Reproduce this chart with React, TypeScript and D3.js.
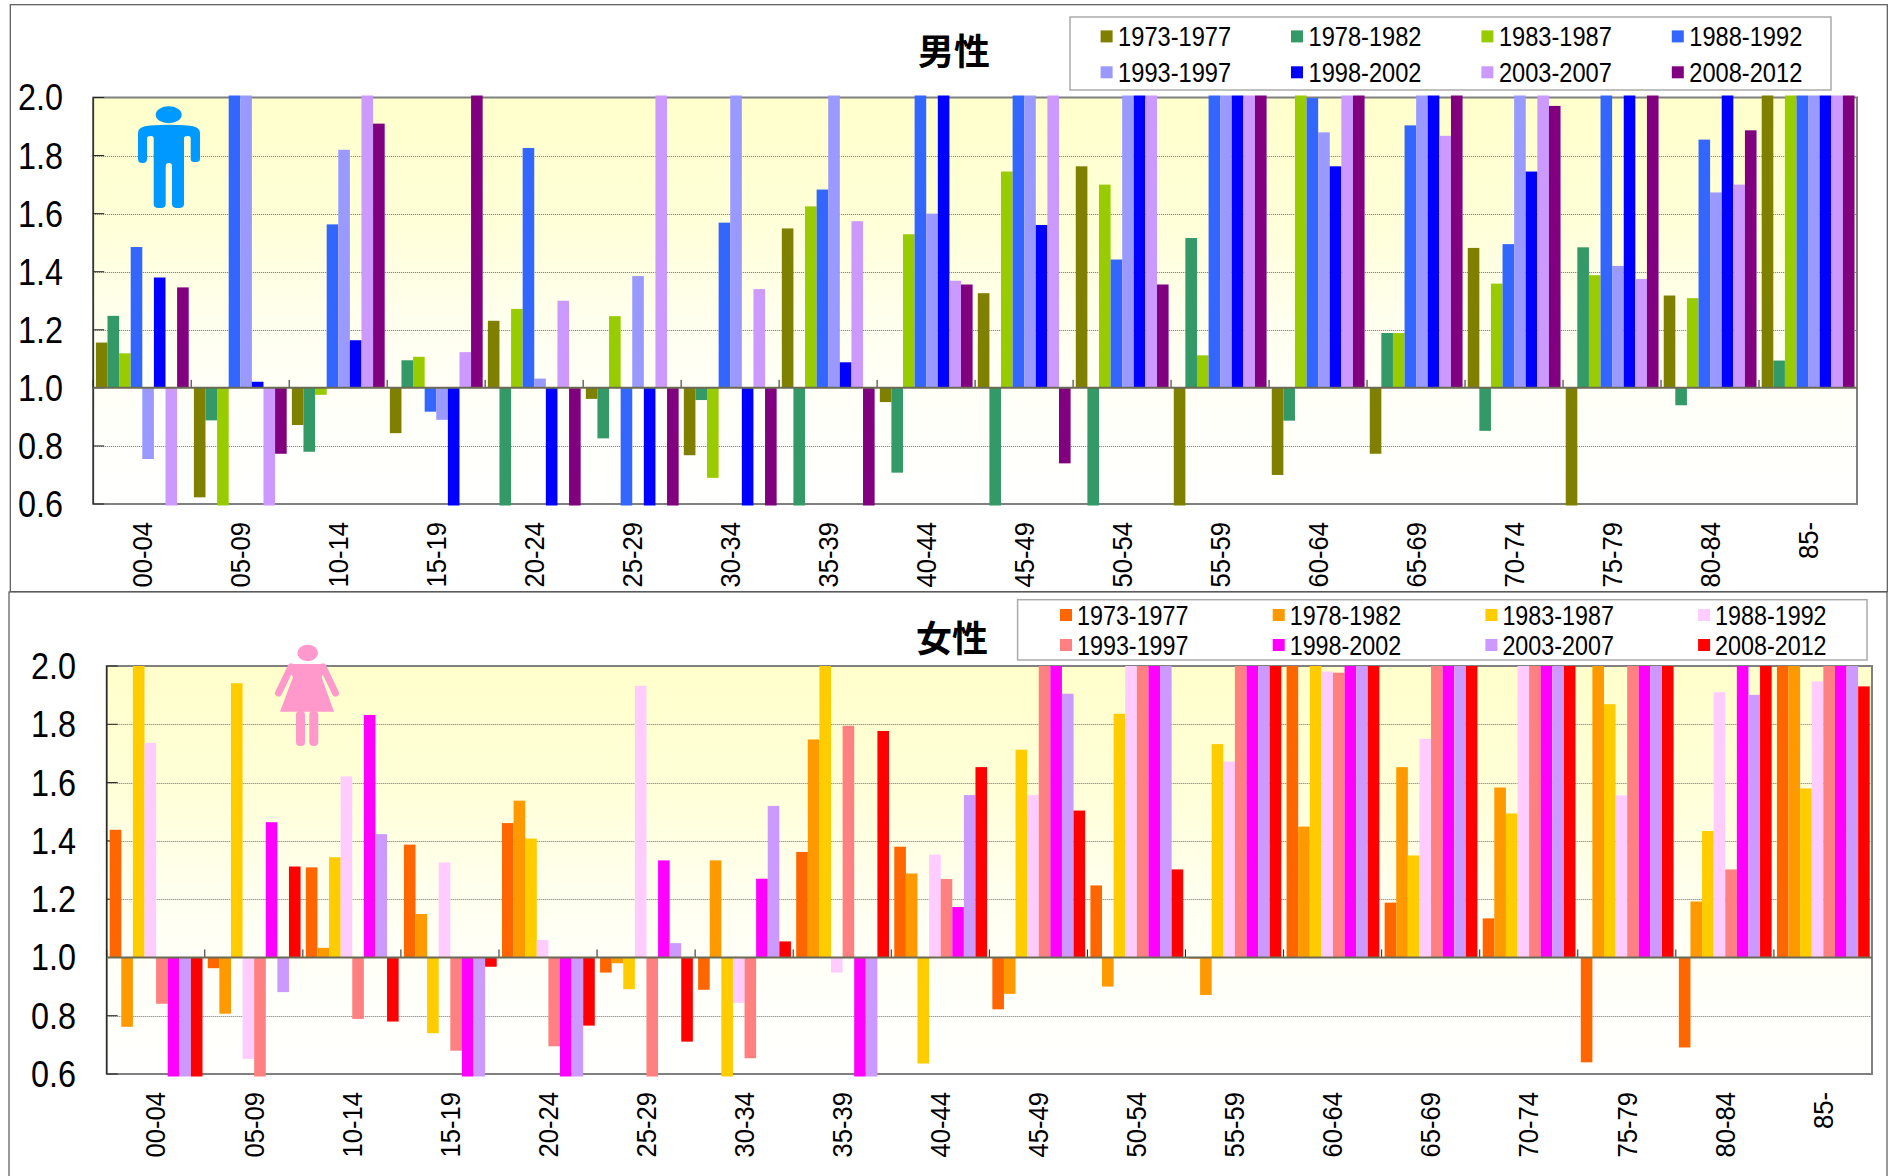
import React from "react";
import * as d3 from "d3";

const ageGroups = ["00-04","05-09","10-14","15-19","20-24","25-29","30-34","35-39","40-44","45-49","50-54","55-59","60-64","65-69","70-74","75-79","80-84","85-"];
const periods = ["1973-1977","1978-1982","1983-1987","1988-1992","1993-1997","1998-2002","2003-2007","2008-2012"];
const yTicks = [0.6,0.8,1.0,1.2,1.4,1.6,1.8,2.0];

const maleColors = ["#808000","#339966","#99CC00","#3366FF","#9999FF","#0000FF","#CC99FF","#800080"];
const femaleColors = ["#FF6600","#FF9900","#FFCC00","#FFCCFF","#FF8080","#FF00FF","#CC99FF","#FF0000"];

// Values are capped at the axis limits (0.6 and 2.0), as in the reference.
const male1973 = [1.156,0.623,0.872,0.844,1.231,0.962,0.768,1.549,0.951,1.326,1.763,0.6,0.70,0.773,1.482,0.6,1.318,2];
const male1978 = [1.248,0.888,0.78,1.095,0.6,0.826,0.958,0.6,0.708,0.6,0.6,1.516,0.887,1.189,0.852,1.484,0.94,1.094];
const male1983 = [1.119,0.6,0.976,1.107,1.272,1.247,0.69,1.625,1.529,1.745,1.70,1.112,2,1.189,1.359,1.388,1.309,2];
const male1988 = [1.485,2,1.563,0.918,1.826,0.6,1.569,1.683,2,2,1.442,2,1.998,1.904,1.495,2,1.855,2];
const male1993 = [0.755,2,1.82,0.89,1.032,1.385,2,2,1.60,2,2,2,1.88,2,2,1.42,1.673,2];
const male1998 = [1.38,1.021,1.164,0.6,0.6,0.6,0.6,1.088,2,1.561,2,2,1.763,2,1.745,2,2,2];
const male2003 = [0.6,0.6,2,1.123,1.30,2,1.34,1.574,1.369,2,2,2,2,1.868,2,1.375,1.70,2];
const male2008 = [1.346,0.773,1.91,2,0.6,0.6,0.6,0.6,1.356,0.74,1.356,2,2,2,1.971,2,1.887,2];

const female1973 = [1.438,0.963,1.309,1.387,1.461,0.948,0.889,1.362,1.38,0.822,1.247,0.996,2,1.188,1.134,0.64,0.691,2];
const female1978 = [0.762,0.807,1.033,1.149,1.538,0.98,1.333,1.748,1.288,0.875,0.9,0.871,1.449,1.653,1.583,2,1.192,2];
const female1983 = [2,1.941,1.344,0.74,1.408,0.891,0.6,2,0.636,1.713,1.836,1.732,2,1.35,1.494,1.869,1.434,1.58];
const female1988 = [1.736,0.652,1.621,1.326,1.06,1.932,0.844,0.948,1.353,1.557,2,1.672,1.981,1.75,2,1.556,1.91,1.947];
const female1993 = [0.841,0.6,0.789,0.68,0.695,0.6,0.654,1.795,1.269,2,2,2,1.977,2,2,2,1.302,2];
const female1998 = [0.6,1.464,1.832,0.6,0.6,1.333,1.27,0.6,1.173,2,2,2,2,2,2,2,2,2];
const female2003 = [0.6,0.881,1.423,0.6,0.6,1.049,1.52,0.6,1.557,1.905,2,2,2,2,2,2,1.901,2];
const female2008 = [0.6,1.312,0.78,0.968,0.766,0.711,1.055,1.777,1.653,1.504,1.302,2,2,2,2,2,2,1.93];

const maleSeries = [male1973,male1978,male1983,male1988,male1993,male1998,male2003,male2008];
const femaleSeries = [female1973,female1978,female1983,female1988,female1993,female1998,female2003,female2008];

const BAR_W = 11.6;
const FONT = "'Liberation Sans', Arial, sans-serif";
const CJK = "'Noto Sans CJK JP', sans-serif";

type ChartProps = {
  id: string; series: number[][]; colors: string[];
  left: number; right: number; top: number; bottom: number; labelRight: number;
  overTop: number; overBottom: number; barStart: number;
  title: string; titleX: number; titleY: number;
  legend: { x: number; y: number; w: number; h: number; sx: number; dx: number; rows: number[]; tx: number; tw: number };
};

function Chart({ id, series, colors, left, right, top, bottom, labelRight, overTop, overBottom, barStart, title, titleX, titleY, legend }: ChartProps) {
  const y = d3.scaleLinear().domain([0.6, 2]).range([bottom, top]);
  const x = d3.scaleBand<string>().domain(ageGroups).range([left, right]);
  const inner = d3.scaleBand<number>().domain(d3.range(8)).range([0, BAR_W * 8]);
  const base = y(1);
  return (
    <g>
      <defs>
        <linearGradient id={id} x1="0" y1="0" x2="0" y2="1">
          <stop offset="0" stopColor="#FFFFCC" />
          <stop offset="0.3" stopColor="#FFFFD8" />
          <stop offset="0.55" stopColor="#FFFFEE" />
          <stop offset="0.72" stopColor="#FFFFF8" />
          <stop offset="1" stopColor="#FFFFFE" />
        </linearGradient>
      </defs>
      <rect x={left} y={top} width={right - left} height={bottom - top} fill={`url(#${id})`} />
      {yTicks.filter(t => t !== 0.6 && t !== 2 && t !== 1).map(t => (
        <line key={t} x1={left} x2={right} y1={Math.round(y(t)) + 0.5} y2={Math.round(y(t)) + 0.5} stroke="#707070" strokeWidth={1} strokeDasharray="1 1" />
      ))}
      <rect x={left} y={top} width={right - left} height={bottom - top} fill="none" stroke="#808080" strokeWidth={2} />
      <line x1={left} x2={left} y1={top} y2={bottom} stroke="#222" strokeWidth={1.2} />
      {yTicks.map(t => (
        <line key={t} x1={left} x2={left + 11} y1={y(t)} y2={y(t)} stroke="#222" strokeWidth={1} />
      ))}
      {ageGroups.map(g => (
        <line key={g} x1={x(g)!} x2={x(g)!} y1={base} y2={base - 8} stroke="#222" strokeWidth={1} />
      ))}
      {series.map((vals, s) => vals.map((v, i) => {
        const bx = x(ageGroups[i])! + barStart + inner(s)!;
        let y0 = Math.min(y(v), base);
        let y1 = Math.max(y(v), base);
        if (v >= 2) y0 -= overTop;
        if (v <= 0.6) y1 += overBottom;
        return <rect key={`${s}-${i}`} x={bx} y={y0} width={BAR_W} height={y1 - y0} fill={colors[s]} />;
      }))}
      <line x1={left} x2={right} y1={base} y2={base} stroke="#6b6b55" strokeWidth={2} />
      {yTicks.map(t => (
        <text key={t} x={labelRight} y={y(t)} dy="0.36em" textAnchor="end" fontFamily={FONT} fontSize={36} textLength={45} lengthAdjust="spacingAndGlyphs" fill="#000">{t.toFixed(1)}</text>
      ))}
      {ageGroups.map(g => {
        const cx = x(g)! + x.bandwidth() / 2;
        const ty = bottom + 18;
        return (
          <text key={g} transform={`translate(${cx},${ty}) rotate(-90)`} dy="0.36em" textAnchor="end" fontFamily={FONT} fontSize={27} textLength={g.length > 3 ? 65.5 : 37} lengthAdjust="spacingAndGlyphs" fill="#000">{g}</text>
        );
      })}
      <text x={titleX} y={titleY} textAnchor="middle" dy="0.36em" fontFamily={CJK} fontWeight={700} fontSize={36} fill="#000">{title}</text>
      <rect x={legend.x} y={legend.y} width={legend.w} height={legend.h} fill="#fff" stroke="#aaa" strokeWidth={1.5} />
      {periods.map((p, i) => {
        const col = i % 4;
        const row = i < 4 ? 0 : 1;
        const sx = legend.sx + col * legend.dx;
        const cy = legend.rows[row];
        return (
          <g key={p}>
            <rect x={sx} y={cy - 6} width={12} height={12} fill={colors[i]} />
            <text x={sx + legend.tx} y={cy} dy="0.36em" fontFamily={FONT} fontSize={27} textLength={legend.tw} lengthAdjust="spacingAndGlyphs" fill="#000">{p}</text>
          </g>
        );
      })}
    </g>
  );
}

function ManIcon() {
  return (
    <g fill="#0099FF">
      <ellipse cx={168.7} cy={114.7} rx={13} ry={8.5} />
      <path d="M138 133 Q138 126 150 125.5 Q169 124 188 125.5 Q200 126 200 133 L200 159 Q200 162 196 162 L194 162 Q190.7 162 190.7 159 L190.7 138 Q190.7 136 188 136 Q184 136 184 138 L184 204 Q184 208 179 208 L177 208 Q172 208 172 204 L172 166 Q172 163 169 163 Q165.7 163 165.7 166 L165.7 204 Q165.7 208 161 208 L158.5 208 Q153.7 208 153.7 204 L153.7 138 Q153.7 136 151 136 Q147 136 147 138 L147 159 Q147 163 143 163 L142 163 Q138 163 138 159 Z" />
    </g>
  );
}

function WomanIcon() {
  return (
    <g fill="#FF99CC" stroke="none">
      <ellipse cx={307.7} cy={653} rx={10.3} ry={8.3} />
      <path d="M290 664 L324 664 L327 668 L321.5 677 L334 711.7 L280 711.7 L293 677 L287 668 Z" />
      <line x1={291} y1={667} x2={278.5} y2={693} stroke="#FF99CC" strokeWidth={7} strokeLinecap="round" />
      <line x1={323} y1={667} x2={335.5} y2={693} stroke="#FF99CC" strokeWidth={7} strokeLinecap="round" />
      <rect x={296} y={711} width={9} height={35} rx={4} />
      <rect x={309.3} y={711} width={9} height={35} rx={4} />
    </g>
  );
}

export default function App() {
  return (
    <svg width={1891} height={1176} style={{ position: "absolute", left: 0, top: 0, display: "block", background: "#fff" }}>
      <rect x={10.3} y={4.7} width={1877} height={587} fill="#fff" stroke="#555" strokeWidth={1.2} />
      <Chart id="gm" series={maleSeries} colors={maleColors}
        left={93.2} right={1857} top={97.5} bottom={504} labelRight={63}
        overTop={2} overBottom={1.5} barStart={2.7}
        title="男性" titleX={954} titleY={52}
        legend={{ x: 1070, y: 17, w: 761, h: 73, sx: 1100.6, dx: 190.4, rows: [36.4, 72.3], tx: 17.5, tw: 113 }} />
      <ManIcon />
      <rect x={9} y={592} width={1878} height={590} fill="#fff" stroke="#555" strokeWidth={1.2} />
      <Chart id="gf" series={femaleSeries} colors={femaleColors}
        left={106.7} right={1872} top={666} bottom={1074} labelRight={76}
        overTop={0} overBottom={2.5} barStart={3}
        title="女性" titleX={952} titleY={639}
        legend={{ x: 1017.6, y: 599.7, w: 849.4, h: 60.3, sx: 1060, dx: 212.7, rows: [615, 645], tx: 17, tw: 111.5 }} />
      <WomanIcon />
    </svg>
  );
}
